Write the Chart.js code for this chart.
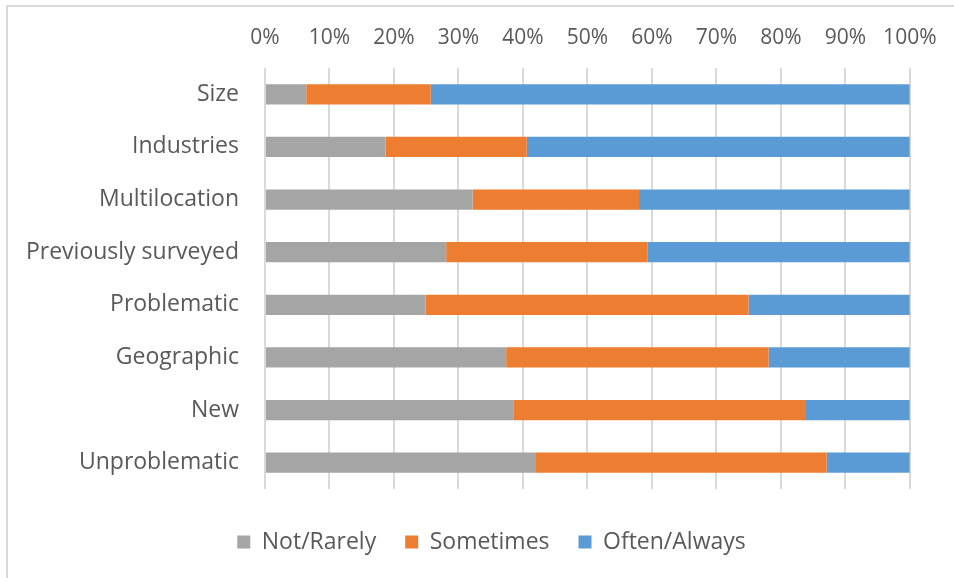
<!DOCTYPE html>
<html>
<head>
<meta charset="utf-8">
<script src="https://cdn.jsdelivr.net/npm/chart.js@4/dist/chart.umd.min.js"></script>
<style>
  html, body { margin: 0; padding: 0; background: #ffffff; }
  #wrap { position: relative; width: 954px; height: 578px; overflow: hidden; }
  #frame {
    position: absolute; left: 6px; top: 5px; right: -10px; bottom: -10px;
    border-left: 2px solid #d9d9d9; border-top: 2px solid #d9d9d9;
    pointer-events: none;
  }
  canvas { position: absolute; left: 0; top: 0; }
</style>
</head>
<body>
<div id="wrap">
  <canvas id="chart" width="954" height="578"></canvas>
  <div id="frame"></div>
</div>
<script>
// Categories, top to bottom
const categories = [
  'Size', 'Industries', 'Multilocation', 'Previously surveyed',
  'Problematic', 'Geographic', 'New', 'Unproblematic'
];

// Share of responses (%) per category
const notRarely   = [6.4, 18.7, 32.2, 28.1, 24.9, 37.4, 38.6, 41.9];
const sometimes   = [19.3, 21.9, 25.8, 31.2, 50.1, 40.7, 45.3, 45.2];
const oftenAlways = [74.3, 59.4, 42.0, 40.7, 25.0, 21.9, 16.1, 12.9];

const seriesNames = ['Not/Rarely', 'Sometimes', 'Often/Always'];
const seriesColors = ['#A5A5A5', '#ED7D31', '#5B9BD5'];
const tickValues = [0, 10, 20, 30, 40, 50, 60, 70, 80, 90, 100];

const FONT = '"Open Sans", Lato, sans-serif';
const TEXT = '#595959';

const seriesData = [notRarely, sometimes, oftenAlways];
const datasets = seriesNames.map((name, i) => ({
  label: name,
  data: seriesData[i],
  backgroundColor: seriesColors[i],
  borderWidth: 0,
  barPercentage: 0.385,
  categoryPercentage: 1.0
}));

// Give the legend a fixed band under the plot and shift its row into place
const legendBand = {
  id: 'legendBand',
  beforeLayout(chart) {
    const lg = chart.legend;
    if (!lg || lg.__band) return;
    const fit = lg.fit;
    lg.fit = function () { fit.call(this); this.height = 89; };
    const draw = lg.draw;
    lg.draw = function () {
      const ctx = this.ctx;
      ctx.save();
      ctx.translate(36, 12.5);
      draw.call(this);
      ctx.restore();
    };
    lg.__band = true;
  }
};

new Chart(document.getElementById('chart'), {
  type: 'bar',
  data: { labels: categories, datasets },
  plugins: [legendBand],
  options: {
    indexAxis: 'y',
    responsive: false,
    animation: false,
    devicePixelRatio: 1,
    layout: { padding: { left: 0, right: 43, top: 0, bottom: 0 } },
    scales: {
      x: {
        position: 'top',
        stacked: true,
        min: 0,
        max: 100,
        afterFit: s => { s.height = 68; },
        afterBuildTicks: s => { s.ticks = tickValues.map(v => ({ value: v })); },
        ticks: {
          color: TEXT,
          font: { family: FONT, size: 21 },
          padding: 17.5,
          maxRotation: 0,
          callback: v => v + '%'
        },
        grid: { color: '#d9d9d9', lineWidth: 2, drawTicks: false },
        border: { display: false }
      },
      y: {
        stacked: true,
        afterFit: s => { s.width = 265; },
        ticks: {
          color: TEXT,
          font: { family: FONT, size: 23 },
          padding: 26
        },
        grid: { display: false, drawTicks: false },
        border: { display: false }
      }
    },
    plugins: {
      legend: {
        position: 'bottom',
        labels: {
          color: TEXT,
          font: { family: FONT, size: 23 },
          boxWidth: 13,
          boxHeight: 13,
          padding: 29
        }
      },
      tooltip: { enabled: false }
    }
  }
});
</script>
</body>
</html>
